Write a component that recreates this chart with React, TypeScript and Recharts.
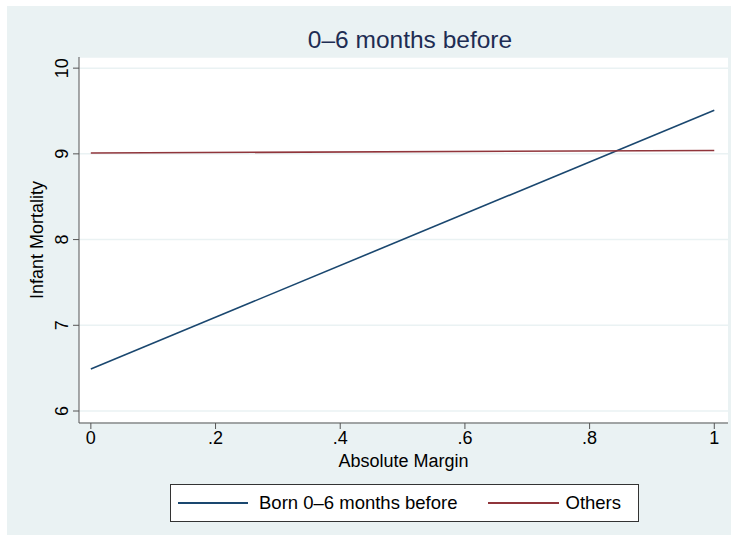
import { CartesianGrid, Line, LineChart, XAxis, YAxis } from "recharts";

const margins = [0, 1];
const bornBefore = [6.49, 9.51];
const others = [9.01, 9.04];
const xTicks = [0, 0.2, 0.4, 0.6, 0.8, 1];
const yTicks = [6, 7, 8, 9, 10];

const data = margins.map((m, i) => ({ margin: m, born: bornBefore[i], others: others[i] }));

const FONT = "'Liberation Sans', Arial, sans-serif";
const BG = "#eaf2f3";
const AXIS = "#555555";
const BLUE = "#1a476f";
const RED = "#90353b";

const fmtX = (v: number) => (v === 0 ? "0" : v === 1 ? "1" : v.toFixed(1).replace(/^0/, ""));

function YTick(props: any) {
  const { x, y, payload } = props;
  return (
    <text x={x - 3} y={y} transform={`rotate(-90 ${x - 3} ${y})`} textAnchor="middle" fontSize={18} fontFamily={FONT} fill="#000">
      {payload.value}
    </text>
  );
}

export default function App() {
  return (
    <div style={{ position: "absolute", left: 0, top: 0, width: 738, height: 541, background: "#fff", fontFamily: FONT }}>
      <div style={{ position: "absolute", left: 7, top: 6, width: 724, height: 529, background: BG }} />
      <div style={{ position: "absolute", left: 210, top: 26, width: 400, textAlign: "center", fontSize: 24.5, lineHeight: "28px", color: "#1e2d53" }}>
        0–6 months before
      </div>
      <div style={{ position: "absolute", left: 0, top: 0 }}>
        <LineChart width={738} height={541} data={data} margin={{ top: 57, right: 10, bottom: 0, left: 0 }}>
          <CartesianGrid vertical={false} fill="#ffffff" stroke={BG} strokeWidth={1.5} />
          <XAxis
            dataKey="margin"
            type="number"
            domain={[-0.019, 1.022]}
            ticks={xTicks}
            tickFormatter={fmtX}
            height={118}
            stroke={AXIS}
            tickSize={6}
            tick={{ fill: "#000", fontSize: 18, fontFamily: FONT }}
            label={{ value: "Absolute Margin", position: "insideTop", offset: 31, fill: "#000", fontSize: 18, fontFamily: FONT }}
          />
          <YAxis
            type="number"
            domain={[5.86, 10.13]}
            ticks={yTicks}
            width={79}
            stroke={AXIS}
            tickSize={6}
            tick={<YTick />}
            label={{ value: "Infant Mortality", angle: -90, position: "insideLeft", offset: 37, fill: "#000", fontSize: 18, fontFamily: FONT, style: { textAnchor: "middle" } }}
          />
          <Line type="linear" dataKey="born" stroke={BLUE} strokeWidth={1.6} dot={false} isAnimationActive={false} />
          <Line type="linear" dataKey="others" stroke={RED} strokeWidth={1.6} dot={false} isAnimationActive={false} />
        </LineChart>
      </div>
      <div style={{ position: "absolute", left: 170, top: 484, width: 467, height: 36, border: "1px solid #333", background: "#fff", display: "flex", alignItems: "center", fontSize: 18.5, color: "#000", whiteSpace: "nowrap" }}>
        <span style={{ display: "inline-block", width: 70, height: 2, background: BLUE, marginLeft: 7, marginRight: 11 }} />
        <span>Born 0–6 months before</span>
        <span style={{ display: "inline-block", width: 71, height: 2, background: RED, marginLeft: 30, marginRight: 7 }} />
        <span>Others</span>
      </div>
    </div>
  );
}
